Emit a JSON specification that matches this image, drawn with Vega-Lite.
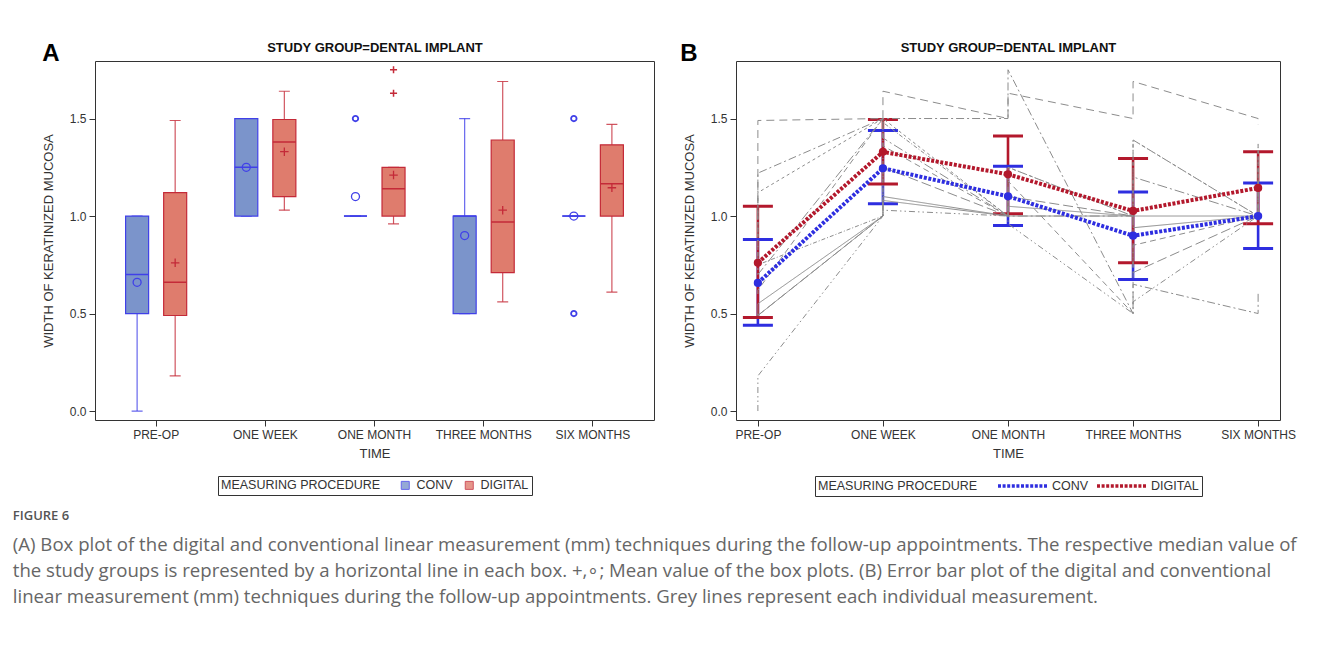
{
 "$schema": "https://vega.github.io/schema/vega-lite/v6.json",
 "padding": {"left": 12, "top": 40, "right": 10, "bottom": 5},
 "background": "white",
 "config": {
  "font": "Liberation Sans",
  "view": {"stroke": "#333", "strokeWidth": 1},
  "axis": {"labelFontSize": 12, "titleFontSize": 13, "titleFontWeight": "normal", "labelColor": "#333", "titleColor": "#333", "tickColor": "#333", "tickSize": 6, "labelPadding": 3, "grid": false, "domain": false, "labelFont": "Liberation Sans", "titleFont": "Liberation Sans"},
  "axisX": {"titlePadding": 7},
  "axisY": {"titlePadding": 14},
  "legend": {"labelFontSize": 12.5, "titleFontSize": 12.5, "titleFontWeight": "normal", "labelColor": "#333", "titleColor": "#333", "labelFont": "Liberation Sans", "titleFont": "Liberation Sans", "layout": {"bottom": {"anchor": "middle"}}}
 },
 "title": {
  "text": "FIGURE 6",
  "subtitle": ["(A) Box plot of the digital and conventional linear measurement (mm) techniques during the follow-up appointments. The respective median value of", "the study groups is represented by a horizontal line in each box. +,∘; Mean value of the box plots. (B) Error bar plot of the digital and conventional", "linear measurement (mm) techniques during the follow-up appointments. Grey lines represent each individual measurement."],
  "orient": "bottom", "anchor": "start", "frame": "bounds", "dx": -29, "offset": 13,
  "font": "Open Sans", "fontSize": 13, "fontWeight": 600, "color": "#555",
  "subtitleFont": "Open Sans", "subtitleFontSize": 18.6, "subtitleColor": "#666", "subtitleLineHeight": 26, "subtitlePadding": 13
 },
 "resolve": {"scale": {"stroke": "independent", "fill": "independent"}, "legend": {"stroke": "independent", "fill": "independent"}},
 "datasets": {
  "boxA": [
   {"time": "PRE-OP", "method": "CONV", "lo": 0, "q1": 0.5, "med": 0.7, "q3": 1.0, "hi": 1.0, "mean": 0.66},
   {"time": "PRE-OP", "method": "DIGITAL", "lo": 0.18, "q1": 0.49, "med": 0.66, "q3": 1.12, "hi": 1.49, "mean": 0.76},
   {"time": "ONE WEEK", "method": "CONV", "lo": 1.0, "q1": 1.0, "med": 1.25, "q3": 1.5, "hi": 1.5, "mean": 1.25},
   {"time": "ONE WEEK", "method": "DIGITAL", "lo": 1.03, "q1": 1.1, "med": 1.38, "q3": 1.495, "hi": 1.64, "mean": 1.33},
   {"time": "ONE MONTH", "method": "CONV", "lo": 1.0, "q1": 1.0, "med": 1.0, "q3": 1.0, "hi": 1.0, "mean": 1.1},
   {"time": "ONE MONTH", "method": "DIGITAL", "lo": 0.96, "q1": 1.0, "med": 1.14, "q3": 1.25, "hi": 1.25, "mean": 1.21},
   {"time": "THREE MONTHS", "method": "CONV", "lo": 0.5, "q1": 0.5, "med": 1.0, "q3": 1.0, "hi": 1.5, "mean": 0.9},
   {"time": "THREE MONTHS", "method": "DIGITAL", "lo": 0.56, "q1": 0.71, "med": 0.97, "q3": 1.39, "hi": 1.69, "mean": 1.03},
   {"time": "SIX MONTHS", "method": "CONV", "lo": 1.0, "q1": 1.0, "med": 1.0, "q3": 1.0, "hi": 1.0, "mean": 1.0},
   {"time": "SIX MONTHS", "method": "DIGITAL", "lo": 0.61, "q1": 1.0, "med": 1.165, "q3": 1.365, "hi": 1.47, "mean": 1.145}
  ],
  "outA": [
   {"time": "ONE MONTH", "method": "CONV", "value": 1.5},
   {"time": "ONE MONTH", "method": "DIGITAL", "value": 1.63},
   {"time": "ONE MONTH", "method": "DIGITAL", "value": 1.75},
   {"time": "SIX MONTHS", "method": "CONV", "value": 1.5},
   {"time": "SIX MONTHS", "method": "CONV", "value": 0.5}
  ],
  "errB": [
   {"time": "PRE-OP", "ti": 1, "method": "CONV", "mean": 0.657, "lo": 0.44, "hi": 0.88},
   {"time": "PRE-OP", "ti": 1, "method": "DIGITAL", "mean": 0.76, "lo": 0.479, "hi": 1.05},
   {"time": "ONE WEEK", "ti": 2, "method": "CONV", "mean": 1.245, "lo": 1.063, "hi": 1.438},
   {"time": "ONE WEEK", "ti": 2, "method": "DIGITAL", "mean": 1.329, "lo": 1.164, "hi": 1.495},
   {"time": "ONE MONTH", "ti": 3, "method": "CONV", "mean": 1.101, "lo": 0.952, "hi": 1.255},
   {"time": "ONE MONTH", "ti": 3, "method": "DIGITAL", "mean": 1.214, "lo": 1.012, "hi": 1.411},
   {"time": "THREE MONTHS", "ti": 4, "method": "CONV", "mean": 0.899, "lo": 0.675, "hi": 1.123},
   {"time": "THREE MONTHS", "ti": 4, "method": "DIGITAL", "mean": 1.026, "lo": 0.76, "hi": 1.295},
   {"time": "SIX MONTHS", "ti": 5, "method": "CONV", "mean": 1.0, "lo": 0.834, "hi": 1.17},
   {"time": "SIX MONTHS", "ti": 5, "method": "DIGITAL", "mean": 1.144, "lo": 0.961, "hi": 1.329}
  ],
  "indiv": [
   {"s": "S1", "t": "PRE-OP", "o": 1, "v": 0}, {"s": "S1", "t": "PRE-OP", "o": 2, "v": 0.18}, {"s": "S1", "t": "ONE WEEK", "o": 3, "v": 1.0}, {"s": "S1", "t": "ONE WEEK", "o": 4, "v": 1.03}, {"s": "S1", "t": "ONE MONTH", "o": 5, "v": 1.0}, {"s": "S1", "t": "ONE MONTH", "o": 6, "v": 0.96}, {"s": "S1", "t": "THREE MONTHS", "o": 7, "v": 0.5}, {"s": "S1", "t": "THREE MONTHS", "o": 8, "v": 0.56}, {"s": "S1", "t": "SIX MONTHS", "o": 9, "v": 1.0}, {"s": "S1", "t": "SIX MONTHS", "o": 10, "v": 1.0},
   {"s": "S2", "t": "PRE-OP", "o": 1, "v": 1.0}, {"s": "S2", "t": "PRE-OP", "o": 2, "v": 1.49}, {"s": "S2", "t": "ONE WEEK", "o": 3, "v": 1.5}, {"s": "S2", "t": "ONE WEEK", "o": 4, "v": 1.64}, {"s": "S2", "t": "ONE MONTH", "o": 5, "v": 1.5}, {"s": "S2", "t": "ONE MONTH", "o": 6, "v": 1.63}, {"s": "S2", "t": "THREE MONTHS", "o": 7, "v": 1.5}, {"s": "S2", "t": "THREE MONTHS", "o": 8, "v": 1.69}, {"s": "S2", "t": "SIX MONTHS", "o": 9, "v": 1.5}, {"s": "S2", "t": "SIX MONTHS", "o": 10, "v": 1.47},
   {"s": "S3", "t": "PRE-OP", "o": 1, "v": 0.9}, {"s": "S3", "t": "PRE-OP", "o": 2, "v": 1.22}, {"s": "S3", "t": "ONE WEEK", "o": 3, "v": 1.5}, {"s": "S3", "t": "ONE WEEK", "o": 4, "v": 1.5}, {"s": "S3", "t": "ONE MONTH", "o": 5, "v": 1.5}, {"s": "S3", "t": "ONE MONTH", "o": 6, "v": 1.75}, {"s": "S3", "t": "THREE MONTHS", "o": 7, "v": 0.5}, {"s": "S3", "t": "THREE MONTHS", "o": 8, "v": 0.65}, {"s": "S3", "t": "SIX MONTHS", "o": 9, "v": 0.5}, {"s": "S3", "t": "SIX MONTHS", "o": 10, "v": 0.61},
   {"s": "S4", "t": "PRE-OP", "o": 1, "v": 0.8}, {"s": "S4", "t": "PRE-OP", "o": 2, "v": 1.12}, {"s": "S4", "t": "ONE WEEK", "o": 3, "v": 1.5}, {"s": "S4", "t": "ONE WEEK", "o": 4, "v": 1.5}, {"s": "S4", "t": "ONE MONTH", "o": 5, "v": 1.0}, {"s": "S4", "t": "ONE MONTH", "o": 6, "v": 1.25}, {"s": "S4", "t": "THREE MONTHS", "o": 7, "v": 1.0}, {"s": "S4", "t": "THREE MONTHS", "o": 8, "v": 1.39}, {"s": "S4", "t": "SIX MONTHS", "o": 9, "v": 1.0}, {"s": "S4", "t": "SIX MONTHS", "o": 10, "v": 1.37},
   {"s": "S5", "t": "PRE-OP", "o": 1, "v": 0.5}, {"s": "S5", "t": "PRE-OP", "o": 2, "v": 0.49}, {"s": "S5", "t": "ONE WEEK", "o": 3, "v": 1.0}, {"s": "S5", "t": "ONE WEEK", "o": 4, "v": 1.08}, {"s": "S5", "t": "ONE MONTH", "o": 5, "v": 1.0}, {"s": "S5", "t": "ONE MONTH", "o": 6, "v": 1.0}, {"s": "S5", "t": "THREE MONTHS", "o": 7, "v": 1.0}, {"s": "S5", "t": "THREE MONTHS", "o": 8, "v": 0.94}, {"s": "S5", "t": "SIX MONTHS", "o": 9, "v": 1.0}, {"s": "S5", "t": "SIX MONTHS", "o": 10, "v": 1.0},
   {"s": "S6", "t": "PRE-OP", "o": 1, "v": 0.5}, {"s": "S6", "t": "PRE-OP", "o": 2, "v": 0.55}, {"s": "S6", "t": "ONE WEEK", "o": 3, "v": 1.0}, {"s": "S6", "t": "ONE WEEK", "o": 4, "v": 1.1}, {"s": "S6", "t": "ONE MONTH", "o": 5, "v": 1.0}, {"s": "S6", "t": "ONE MONTH", "o": 6, "v": 1.05}, {"s": "S6", "t": "THREE MONTHS", "o": 7, "v": 1.0}, {"s": "S6", "t": "THREE MONTHS", "o": 8, "v": 1.0}, {"s": "S6", "t": "SIX MONTHS", "o": 9, "v": 1.0}, {"s": "S6", "t": "SIX MONTHS", "o": 10, "v": 1.05},
   {"s": "S7", "t": "PRE-OP", "o": 1, "v": 0.5}, {"s": "S7", "t": "PRE-OP", "o": 2, "v": 0.49}, {"s": "S7", "t": "ONE WEEK", "o": 3, "v": 1.0}, {"s": "S7", "t": "ONE WEEK", "o": 4, "v": 1.25}, {"s": "S7", "t": "ONE MONTH", "o": 5, "v": 1.0}, {"s": "S7", "t": "ONE MONTH", "o": 6, "v": 1.1}, {"s": "S7", "t": "THREE MONTHS", "o": 7, "v": 1.0}, {"s": "S7", "t": "THREE MONTHS", "o": 8, "v": 0.71}, {"s": "S7", "t": "SIX MONTHS", "o": 9, "v": 1.0}, {"s": "S7", "t": "SIX MONTHS", "o": 10, "v": 1.15},
   {"s": "S8", "t": "PRE-OP", "o": 1, "v": 0.6}, {"s": "S8", "t": "PRE-OP", "o": 2, "v": 0.62}, {"s": "S8", "t": "ONE WEEK", "o": 3, "v": 1.5}, {"s": "S8", "t": "ONE WEEK", "o": 4, "v": 1.36}, {"s": "S8", "t": "ONE MONTH", "o": 5, "v": 1.0}, {"s": "S8", "t": "ONE MONTH", "o": 6, "v": 1.18}, {"s": "S8", "t": "THREE MONTHS", "o": 7, "v": 0.5}, {"s": "S8", "t": "THREE MONTHS", "o": 8, "v": 0.85}, {"s": "S8", "t": "SIX MONTHS", "o": 9, "v": 1.0}, {"s": "S8", "t": "SIX MONTHS", "o": 10, "v": 1.18},
   {"s": "S9", "t": "PRE-OP", "o": 1, "v": 0.8}, {"s": "S9", "t": "PRE-OP", "o": 2, "v": 0.7}, {"s": "S9", "t": "ONE WEEK", "o": 3, "v": 1.5}, {"s": "S9", "t": "ONE WEEK", "o": 4, "v": 1.4}, {"s": "S9", "t": "ONE MONTH", "o": 5, "v": 1.0}, {"s": "S9", "t": "ONE MONTH", "o": 6, "v": 1.0}, {"s": "S9", "t": "THREE MONTHS", "o": 7, "v": 1.0}, {"s": "S9", "t": "THREE MONTHS", "o": 8, "v": 1.2}, {"s": "S9", "t": "SIX MONTHS", "o": 9, "v": 1.0}, {"s": "S9", "t": "SIX MONTHS", "o": 10, "v": 1.3},
   {"s": "S10", "t": "PRE-OP", "o": 1, "v": 1.0}, {"s": "S10", "t": "PRE-OP", "o": 2, "v": 0.75}, {"s": "S10", "t": "ONE WEEK", "o": 3, "v": 1.0}, {"s": "S10", "t": "ONE WEEK", "o": 4, "v": 1.48}, {"s": "S10", "t": "ONE MONTH", "o": 5, "v": 1.0}, {"s": "S10", "t": "ONE MONTH", "o": 6, "v": 1.25}, {"s": "S10", "t": "THREE MONTHS", "o": 7, "v": 1.0}, {"s": "S10", "t": "THREE MONTHS", "o": 8, "v": 1.39}, {"s": "S10", "t": "SIX MONTHS", "o": 9, "v": 1.0}, {"s": "S10", "t": "SIX MONTHS", "o": 10, "v": 1.37}
  ]
 },
 "spacing": 24,
 "hconcat": [
  {
   "width": 559, "height": 359,
   "title": {"text": "A", "anchor": "start", "frame": "bounds", "fontSize": 24, "fontWeight": "bold", "color": "#000", "font": "Liberation Sans", "baseline": "alphabetic", "offset": -44},
   "resolve": {"axis": {"x": "independent"}},
   "encoding": {
    "x": {"field": "time", "type": "nominal", "scale": {"type": "band", "domain": ["PRE-OP", "ONE WEEK", "ONE MONTH", "THREE MONTHS", "SIX MONTHS"], "paddingInner": 0, "paddingOuter": 0.06}, "axis": null},
    "xOffset": {"field": "method", "type": "nominal", "scale": {"domain": ["CONV", "DIGITAL"], "paddingInner": 0.395, "paddingOuter": 0.632}}
   },
   "layer": [
    {
     "data": {"name": "boxA"},
     "mark": {"type": "rule", "strokeWidth": 1.2, "opacity": 0.8},
     "encoding": {
      "y": {"field": "lo", "type": "quantitative", "scale": {"domain": [-0.046, 1.795], "nice": false, "zero": false}},
      "y2": {"field": "hi"},
      "stroke": {"field": "method", "type": "nominal", "scale": {"domain": ["CONV", "DIGITAL"], "range": ["#4040e8", "#c42a38"]}}
     }
    },
    {
     "data": {"name": "boxA"},
     "mark": {"type": "tick", "filled": false, "thickness": 0, "size": 11, "strokeWidth": 1.2, "opacity": 0.8},
     "encoding": {
      "y": {"field": "lo", "type": "quantitative", "scale": {"domain": [-0.046, 1.795], "nice": false, "zero": false}},
      "stroke": {"field": "method", "type": "nominal", "scale": {"domain": ["CONV", "DIGITAL"], "range": ["#4040e8", "#c42a38"]}}
     }
    },
    {
     "data": {"name": "boxA"},
     "mark": {"type": "tick", "filled": false, "thickness": 0, "size": 11, "strokeWidth": 1.2, "opacity": 0.8},
     "encoding": {
      "y": {"field": "hi", "type": "quantitative", "scale": {"domain": [-0.046, 1.795], "nice": false, "zero": false}},
      "stroke": {"field": "method", "type": "nominal", "scale": {"domain": ["CONV", "DIGITAL"], "range": ["#4040e8", "#c42a38"]}}
     }
    },
    {
     "data": {"name": "boxA"},
     "mark": {"type": "bar", "strokeWidth": 1.2},
     "encoding": {
      "x": {"field": "time", "type": "nominal", "scale": {"type": "band", "domain": ["PRE-OP", "ONE WEEK", "ONE MONTH", "THREE MONTHS", "SIX MONTHS"], "paddingInner": 0, "paddingOuter": 0.06}, "axis": {"orient": "bottom", "title": "TIME", "labelAngle": 0}},
      "y": {"field": "q1", "type": "quantitative", "scale": {"domain": [-0.046, 1.795], "nice": false, "zero": false}, "axis": {"orient": "left", "title": "WIDTH OF KERATINIZED MUCOSA", "values": [0, 0.5, 1, 1.5], "format": ".1f"}},
      "y2": {"field": "q3"},
      "fill": {"field": "method", "type": "nominal", "scale": {"domain": ["CONV", "DIGITAL"], "range": ["#7b94cb", "#df7c6d"]}, "legend": {"title": "MEASURING PROCEDURE", "orient": "bottom", "direction": "horizontal", "titleOrient": "left", "symbolType": "square", "symbolSize": 64, "symbolStrokeWidth": 1, "strokeColor": "#333", "padding": 3, "titlePadding": 18, "columnPadding": 10, "labelOffset": 5, "offset": 16}},
      "stroke": {"field": "method", "type": "nominal", "scale": {"domain": ["CONV", "DIGITAL"], "range": ["#4040e8", "#c42a38"]}, "legend": {"title": "MEASURING PROCEDURE", "orient": "bottom", "direction": "horizontal", "titleOrient": "left", "symbolType": "square", "symbolSize": 64, "symbolStrokeWidth": 1, "strokeColor": "#333", "padding": 3, "titlePadding": 18, "columnPadding": 10, "labelOffset": 5, "offset": 16}}
     }
    },
    {
     "data": {"name": "boxA"},
     "mark": {"type": "bar", "strokeWidth": 1.5, "fillOpacity": 0},
     "encoding": {
      "x": {"field": "time", "type": "nominal", "scale": {"type": "band", "domain": ["PRE-OP", "ONE WEEK", "ONE MONTH", "THREE MONTHS", "SIX MONTHS"], "paddingInner": 0, "paddingOuter": 0.06}, "axis": {"orient": "top", "title": "STUDY GROUP=DENTAL IMPLANT", "labels": false, "ticks": false, "domain": false, "titleFontWeight": "bold", "titleFontSize": 13, "titleColor": "#111", "titlePadding": 7}},
      "y": {"field": "med", "type": "quantitative", "scale": {"domain": [-0.046, 1.795], "nice": false, "zero": false}},
      "y2": {"field": "med"},
      "stroke": {"field": "method", "type": "nominal", "scale": {"domain": ["CONV", "DIGITAL"], "range": ["#4040e8", "#c42a38"]}}
     }
    },
    {
     "data": {"name": "boxA"},
     "transform": [{"filter": {"field": "method", "equal": "CONV"}}],
     "mark": {"type": "point", "filled": false, "shape": "circle", "size": 64, "strokeWidth": 1.3, "opacity": 1},
     "encoding": {
      "y": {"field": "mean", "type": "quantitative", "scale": {"domain": [-0.046, 1.795], "nice": false, "zero": false}},
      "stroke": {"field": "method", "type": "nominal", "scale": {"domain": ["CONV", "DIGITAL"], "range": ["#4040e8", "#c42a38"]}}
     }
    },
    {
     "data": {"name": "boxA"},
     "transform": [{"filter": {"field": "method", "equal": "DIGITAL"}}],
     "mark": {"type": "point", "filled": false, "shape": "M-1,0H1M0,-1V1", "size": 72, "strokeWidth": 1.3, "opacity": 1},
     "encoding": {
      "y": {"field": "mean", "type": "quantitative", "scale": {"domain": [-0.046, 1.795], "nice": false, "zero": false}},
      "stroke": {"field": "method", "type": "nominal", "scale": {"domain": ["CONV", "DIGITAL"], "range": ["#4040e8", "#c42a38"]}}
     }
    },
    {
     "data": {"name": "outA"},
     "transform": [{"filter": {"field": "method", "equal": "CONV"}}],
     "mark": {"type": "point", "filled": false, "shape": "circle", "size": 30, "strokeWidth": 1.8, "opacity": 1},
     "encoding": {
      "y": {"field": "value", "type": "quantitative", "scale": {"domain": [-0.046, 1.795], "nice": false, "zero": false}},
      "stroke": {"field": "method", "type": "nominal", "scale": {"domain": ["CONV", "DIGITAL"], "range": ["#4040e8", "#c42a38"]}}
     }
    },
    {
     "data": {"name": "outA"},
     "transform": [{"filter": {"field": "method", "equal": "DIGITAL"}}],
     "mark": {"type": "point", "filled": false, "shape": "M-1,0H1M0,-1V1", "size": 50, "strokeWidth": 1.5, "opacity": 1},
     "encoding": {
      "y": {"field": "value", "type": "quantitative", "scale": {"domain": [-0.046, 1.795], "nice": false, "zero": false}},
      "stroke": {"field": "method", "type": "nominal", "scale": {"domain": ["CONV", "DIGITAL"], "range": ["#4040e8", "#c42a38"]}}
     }
    }
   ]
  },
  {
   "width": 544, "height": 359,
   "title": {"text": "B", "anchor": "start", "frame": "bounds", "fontSize": 24, "fontWeight": "bold", "color": "#000", "font": "Liberation Sans", "baseline": "alphabetic", "offset": -44, "dx": -3},
   "resolve": {"axis": {"x": "independent"}},
   "encoding": {
    "x": {"field": "time", "type": "nominal", "scale": {"type": "point", "domain": ["PRE-OP", "ONE WEEK", "ONE MONTH", "THREE MONTHS", "SIX MONTHS"], "padding": 0.175}, "axis": null}
   },
   "layer": [
    {
     "data": {"name": "errB"},
     "mark": {"type": "rule", "strokeWidth": 2.6},
     "encoding": {
      "x": {"field": "time", "type": "nominal", "scale": {"type": "point", "domain": ["PRE-OP", "ONE WEEK", "ONE MONTH", "THREE MONTHS", "SIX MONTHS"], "padding": 0.175}, "axis": {"orient": "bottom", "title": "TIME", "labelAngle": 0}},
      "y": {"field": "lo", "type": "quantitative", "scale": {"domain": [-0.046, 1.795], "nice": false, "zero": false}, "axis": {"orient": "left", "title": "WIDTH OF KERATINIZED MUCOSA", "values": [0, 0.5, 1, 1.5], "format": ".1f"}},
      "y2": {"field": "hi"},
      "stroke": {"field": "method", "type": "nominal", "scale": {"domain": ["CONV", "DIGITAL"], "range": ["#2e2ee0", "#b3182c"]}, "legend": {"title": "MEASURING PROCEDURE", "orient": "bottom", "direction": "horizontal", "titleOrient": "left", "symbolType": "M-1,0H9", "symbolDash": [3, 1.6], "symbolStrokeWidth": 3.5, "symbolSize": 100, "strokeColor": "#333", "padding": 3, "titlePadding": 18, "columnPadding": 1, "labelOffset": 42, "offset": 16}}
     }
    },
    {
     "data": {"name": "errB"},
     "transform": [{"fold": ["lo", "hi"], "as": ["k", "capv"]}],
     "mark": {"type": "tick", "filled": false, "size": 30, "thickness": 0, "strokeWidth": 3, "opacity": 1},
     "encoding": {
      "y": {"field": "capv", "type": "quantitative", "scale": {"domain": [-0.046, 1.795], "nice": false, "zero": false}},
      "stroke": {"field": "method", "type": "nominal", "scale": {"domain": ["CONV", "DIGITAL"], "range": ["#2e2ee0", "#b3182c"]}}
     }
    },
    {
     "data": {"name": "indiv"},
     "mark": {"type": "line", "color": "#8c8c8c", "strokeWidth": 1},
     "encoding": {
      "x": {"field": "t", "type": "nominal", "scale": {"type": "point", "domain": ["PRE-OP", "ONE WEEK", "ONE MONTH", "THREE MONTHS", "SIX MONTHS"], "padding": 0.175}, "axis": null},
      "y": {"field": "v", "type": "quantitative", "scale": {"domain": [-0.046, 1.795], "nice": false, "zero": false}},
      "detail": {"field": "s", "type": "nominal"},
      "order": {"field": "o", "type": "quantitative"},
      "strokeDash": {"field": "s", "type": "nominal", "scale": {"domain": ["S1", "S2", "S3", "S4", "S5", "S6", "S7", "S8", "S9", "S10"], "range": [[6, 3, 1.5, 3, 1.5, 3], [8, 5], [8, 3, 2, 3], [3, 3], [1, 0], [1, 0], [10, 4], [6, 4], [10, 3, 2, 3], [4, 2, 1, 2]]}, "legend": null}
     }
    },
    {
     "data": {"name": "errB"},
     "mark": {"type": "line", "strokeWidth": 4, "strokeDash": [3, 1.6]},
     "encoding": {
      "x": {"field": "time", "type": "nominal", "scale": {"type": "point", "domain": ["PRE-OP", "ONE WEEK", "ONE MONTH", "THREE MONTHS", "SIX MONTHS"], "padding": 0.175}, "axis": {"orient": "top", "title": "STUDY GROUP=DENTAL IMPLANT", "labels": false, "ticks": false, "domain": false, "titleFontWeight": "bold", "titleFontSize": 13, "titleColor": "#111", "titlePadding": 7}},
      "y": {"field": "mean", "type": "quantitative", "scale": {"domain": [-0.046, 1.795], "nice": false, "zero": false}},
      "order": {"field": "ti", "type": "quantitative"},
      "stroke": {"field": "method", "type": "nominal", "scale": {"domain": ["CONV", "DIGITAL"], "range": ["#2e2ee0", "#b3182c"]}}
     }
    },
    {
     "data": {"name": "errB"},
     "mark": {"type": "point", "filled": false, "shape": "circle", "size": 18, "strokeWidth": 4, "opacity": 1},
     "encoding": {
      "y": {"field": "mean", "type": "quantitative", "scale": {"domain": [-0.046, 1.795], "nice": false, "zero": false}},
      "stroke": {"field": "method", "type": "nominal", "scale": {"domain": ["CONV", "DIGITAL"], "range": ["#2e2ee0", "#b3182c"]}}
     }
    }
   ]
  }
 ]
}
